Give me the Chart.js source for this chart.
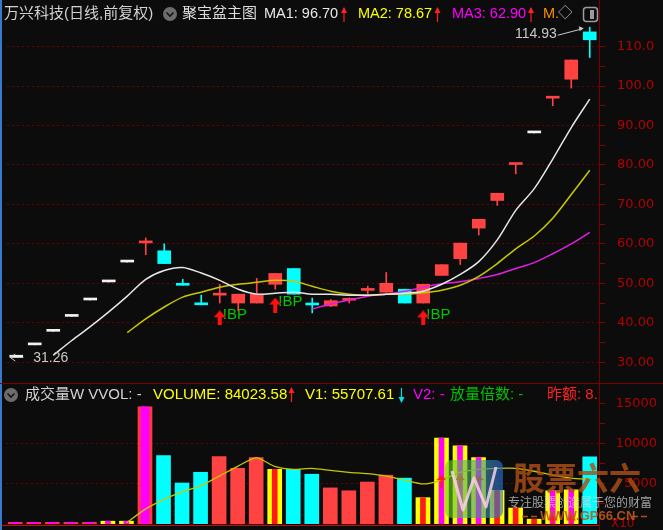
<!DOCTYPE html>
<html>
<head>
<meta charset="utf-8">
<title>万兴科技 日线</title>
<script src="https://cdn.jsdelivr.net/npm/chart.js@4.4.1/dist/chart.umd.min.js"></script>
<style>
  html, body { margin: 0; padding: 0; background: #0c0c0c; overflow: hidden; }
  #wrap { position: relative; width: 663px; height: 530px; }
  canvas { position: absolute; left: 0; }
  #priceChart { top: 0; }
  #volChart { top: 383px; }
</style>
</head>
<body>
<div id="wrap">
  <canvas id="priceChart" width="663" height="383"></canvas>
  <canvas id="volChart" width="663" height="147"></canvas>
</div>
<script>
// candles
const openP  = [31.26, 34.39, 37.83, 41.61, 45.77, 50.35, 55.39, 60.25, 58.25, 49.5, 44.55, 47.0, 45.0, 45.0, 49.75, 53.75, 44.5, 44.25, 45.7, 48.2, 47.75, 48.5, 45.0, 52.0, 56.25, 64.0, 71.0, 80.12, 88.13, 96.94, 101.75, 113.75];
const highP  = [31.26, 34.39, 37.83, 41.61, 45.77, 50.35, 55.39, 61.5, 60.0, 51.0, 47.0, 49.75, 47.25, 51.25, 52.5, 53.75, 46.25, 45.9, 46.3, 49.3, 52.75, 48.5, 49.75, 54.73, 60.2, 66.22, 72.84, 80.12, 88.13, 96.94, 106.63, 114.93];
const lowP   = [31.26, 34.39, 37.83, 41.61, 45.77, 50.35, 55.39, 57.25, 55.0, 49.5, 44.55, 45.0, 43.0, 45.0, 48.5, 47.25, 42.5, 44.1, 45.0, 47.3, 47.75, 45.0, 45.0, 52.0, 54.75, 62.25, 69.75, 77.75, 88.13, 95.0, 99.5, 107.25];
const closeP = [31.26, 34.39, 37.83, 41.61, 45.77, 50.35, 55.39, 60.25, 55.0, 49.5, 44.55, 47.0, 47.25, 47.25, 52.5, 47.25, 44.5, 45.6, 45.85, 48.3, 50.0, 45.0, 49.75, 54.73, 60.2, 66.22, 72.84, 80.12, 88.13, 96.94, 106.63, 111.75];

// moving average lines (MA1 white, MA2 yellow, MA3 magenta)
const ma1 = [null, null, 31.75, 35.5, 39.0, 42.75, 46.75, 51.0, 53.25, 54.0, 52.6, 50.75, 48.5, 47.25, 47.5, 47.75, 47.25, 47.25, 47.0, 47.0, 47.25, 47.5, 48.0, 49.75, 52.25, 55.5, 61.0, 68.5, 74.0, 81.5, 89.5, 96.70];
const ma2 = [null, null, null, null, null, null, 37.5, 41.0, 44.0, 46.5, 47.75, 49.0, 49.75, 50.25, 50.75, 50.5, 49.25, 48.0, 47.25, 47.0, 47.25, 47.25, 47.6, 48.25, 49.5, 51.75, 55.0, 58.75, 62.0, 66.5, 72.5, 78.67];
const ma3 = [null, null, null, null, null, null, null, null, null, null, null, null, null, null, null, null, 43.5, 44.75, 45.75, 46.75, 47.25, 48.0, 49.0, 49.9, 50.4, 51.25, 52.25, 53.75, 55.25, 57.5, 60.0, 62.90];

// BP buy signals (arrow level)
const bpArrow = [null, null, null, null, null, null, null, null, null, null, null, 41.25, null, null, 44.5, null, null, null, null, null, null, null, 41.25, null, null, null, null, null, null, null, null, null];

// volume (x10 units) and its average line
const volume = [200, 200, 200, 200, 200, 350, 350, 14630, 8540, 5120, 6460, 8410, 6950, 8290, 6830, 6830, 6220, 4510, 4150, 5240, 6100, 5730, 3290, 10730, 9760, 8300, 4200, 2000, 600, 4150, 4270, 8402.358];
const v1 = [null, null, null, null, null, null, 150, 1830, 3050, 4020, 4760, 5980, 7200, 8290, 7200, 6830, 6950, 6700, 6460, 6280, 5980, 5490, 5000, 5490, 6460, 6830, 6950, 6950, 6590, 6100, 5730, 5570.761];
// 放量 marks: rm = red/magenta, ym = yellow/magenta, yr = yellow/red
const volSignal = ['rm', 'rm', 'rm', 'rm', 'rm', 'ym', 'ym', 'rm', '', '', '', '', '', '', 'yr', '', '', '', '', '', '', '', 'yr', 'ym', 'ym', 'ym', 'yr', 'yr', 'yr', 'ym', 'ym', ''];
const volArrow = [null, null, null, null, null, null, null, null, null, null, null, null, null, null, null, null, null, null, null, null, null, null, null, 5300, 5300, 5300, null, null, null, 250, 250, null];

// axis ticks
const priceTicks = [30, 35, 40, 45, 50, 55, 60, 65, 70, 75, 80, 85, 90, 95, 100, 105, 110];
const volTicks = [2500, 5000, 7500, 10000, 12500, 15000];

const days = openP.map((_, i) => 'D' + (i + 1));

const UP = '#ff4242', DOWN = '#00ffff', FLAT = '#f2f2f2';
const AXIS_RED = '#b40000', GRID_RED = '#6e0000', TICK_RED = '#8a0000';
const TXT = '14.5px "Liberation Sans", "Noto Sans CJK SC", sans-serif';
const CJK = '15px "Liberation Sans", "Noto Sans CJK SC", sans-serif';
const AXIS_FONT = { family: 'DejaVu Sans', size: 13 };

function candleColor(i) {
  if (closeP[i] > openP[i]) return UP;
  if (closeP[i] < openP[i]) return DOWN;
  if (highP[i] === lowP[i]) return FLAT;
  return closeP[i] >= closeP[i - 1] ? UP : DOWN;
}
const candleColors = days.map((_, i) => candleColor(i));

function makeArrow(w, h, head, shaft, color) {
  const c = document.createElement('canvas');
  c.width = w; c.height = h;
  const g = c.getContext('2d');
  g.fillStyle = color;
  g.beginPath();
  g.moveTo(w / 2, 0); g.lineTo(w, head); g.lineTo((w + shaft) / 2, head);
  g.lineTo((w + shaft) / 2, h); g.lineTo((w - shaft) / 2, h);
  g.lineTo((w - shaft) / 2, head); g.lineTo(0, head);
  g.closePath(); g.fill();
  return c;
}
const bpIcon = makeArrow(12, 15, 7, 4, '#ff1010');
const volIcon = makeArrow(10, 13, 5, 2, '#ff1a1a');

function drawText(ctx, s, x, y, color) {
  ctx.fillStyle = color;
  ctx.fillText(s, x, y);
}

function dropIcon(ctx, cx, cy) {
  ctx.fillStyle = '#6c6c6c';
  ctx.beginPath(); ctx.arc(cx, cy, 7, 0, Math.PI * 2); ctx.fill();
  ctx.strokeStyle = '#161616'; ctx.lineWidth = 1.6;
  ctx.beginPath(); ctx.moveTo(cx - 3.5, cy - 1.5); ctx.lineTo(cx, cy + 2); ctx.lineTo(cx + 3.5, cy - 1.5); ctx.stroke();
}

function thinArrow(ctx, x, yTop, yBot, color, up) {
  ctx.strokeStyle = color; ctx.fillStyle = color; ctx.lineWidth = 1.2;
  ctx.beginPath(); ctx.moveTo(x, yTop); ctx.lineTo(x, yBot); ctx.stroke();
  ctx.beginPath();
  if (up) { ctx.moveTo(x, yTop - 1); ctx.lineTo(x - 3, yTop + 5); ctx.lineTo(x + 3, yTop + 5); }
  else { ctx.moveTo(x, yBot + 1); ctx.lineTo(x - 3, yBot - 5); ctx.lineTo(x + 3, yBot - 5); }
  ctx.closePath(); ctx.fill();
}

function frame(ctx, chart) {
  ctx.fillStyle = '#3a78c8';
  ctx.fillRect(0, 0, 2, chart.height);
  ctx.strokeStyle = '#7a0000'; ctx.lineWidth = 1;
  const xr = Math.round(chart.chartArea.right) + 0.5;
  ctx.beginPath(); ctx.moveTo(xr, 0); ctx.lineTo(xr, chart.height); ctx.stroke();
}

const priceOverlay = {
  id: 'priceOverlay',
  beforeDatasetsDraw(chart) {
    const { ctx, scales: { x, y } } = chart;
    ctx.save();
    ctx.font = '15px "Liberation Sans", sans-serif';
    ctx.textBaseline = 'middle';
    bpArrow.forEach((v, i) => {
      if (v == null) return;
      drawText(ctx, '!BP', x.getPixelForValue(i) + 3, y.getPixelForValue(v) - 3, '#00c800');
    });
    ctx.restore();
  },
  afterDraw(chart) {
    const { ctx, scales: { x, y } } = chart;
    ctx.save();
    frame(ctx, chart);

    // title row
    ctx.textBaseline = 'middle';
    ctx.font = CJK;
    drawText(ctx, '万兴科技(日线,前复权)', 4, 14, '#d2d2d2');
    dropIcon(ctx, 170, 14);
    drawText(ctx, '聚宝盆主图', 182, 14, '#dcdcdc');
    ctx.font = TXT;
    drawText(ctx, 'MA1: ' + ma1[ma1.length - 1].toFixed(2), 264, 14, '#e8e8e8');
    thinArrow(ctx, 344, 8, 22, '#ff2020', true);
    drawText(ctx, 'MA2: ' + ma2[ma2.length - 1].toFixed(2), 358, 14, '#ffff00');
    thinArrow(ctx, 437.5, 8, 22, '#ff2020', true);
    drawText(ctx, 'MA3: ' + ma3[ma3.length - 1].toFixed(2), 452, 14, '#ff00ff');
    thinArrow(ctx, 531, 8, 22, '#ff2020', true);
    drawText(ctx, 'M.', 543, 14, '#ff8c00');
    drawText(ctx, '◇', 558, 14, '#b4b4b4');
    ctx.strokeStyle = '#9c9c9c'; ctx.lineWidth = 1.5;
    ctx.beginPath(); ctx.roundRect(583.5, 7.5, 14, 14, 3); ctx.stroke();
    ctx.fillStyle = '#9c9c9c'; ctx.fillRect(590, 10, 4, 9);

    // lowest low / highest high markers
    ctx.font = '14px "Liberation Sans", sans-serif';
    const iLo = lowP.indexOf(Math.min(...lowP));
    const iHi = highP.indexOf(Math.max(...highP));
    const xl = x.getPixelForValue(iLo), yl = Math.round(y.getPixelForValue(lowP[iLo])) + 0.5;
    ctx.strokeStyle = '#c8c8c8'; ctx.fillStyle = '#c8c8c8'; ctx.lineWidth = 1;
    ctx.beginPath(); ctx.moveTo(xl - 6, yl); ctx.lineTo(xl + 7, yl); ctx.stroke();
    ctx.beginPath(); ctx.moveTo(xl - 6, yl); ctx.lineTo(xl - 1, yl - 3.5); ctx.moveTo(xl - 6, yl); ctx.lineTo(xl - 1, yl + 3.5); ctx.stroke();
    drawText(ctx, lowP[iLo].toFixed(2), xl + 17, yl + 1, '#c8c8c8');

    const xh = x.getPixelForValue(iHi), yh = y.getPixelForValue(highP[iHi]);
    ctx.textAlign = 'right';
    drawText(ctx, highP[iHi].toFixed(2), xh - 33, yh + 7, '#c8c8c8');
    ctx.strokeStyle = '#c8c8c8';
    ctx.beginPath(); ctx.moveTo(xh - 32, yh + 8); ctx.lineTo(xh - 9, yh + 2); ctx.stroke();
    ctx.beginPath(); ctx.moveTo(xh - 6, yh + 1); ctx.lineTo(xh - 11, yh - 1); ctx.lineTo(xh - 10, yh + 4); ctx.closePath(); ctx.fill();
    ctx.restore();
  }
};

const volOverlay = {
  id: 'volOverlay',
  afterDraw(chart) {
    const { ctx, chartArea, scales: { y } } = chart;
    ctx.save();
    frame(ctx, chart);
    ctx.strokeStyle = '#7a0000'; ctx.lineWidth = 1;
    ctx.beginPath(); ctx.moveTo(0, 0.5); ctx.lineTo(chart.width, 0.5); ctx.stroke();
    const yb = Math.round(y.getPixelForValue(0)) + 1.5;
    ctx.strokeStyle = '#e00000';
    ctx.beginPath(); ctx.moveTo(2, yb); ctx.lineTo(chartArea.right, yb); ctx.stroke();

    // title row
    ctx.font = CJK;
    ctx.textBaseline = 'middle';
    dropIcon(ctx, 11, 12);
    drawText(ctx, '成交量W VVOL: -', 25, 12, '#d2d2d2');
    drawText(ctx, 'VOLUME: ' + (volume[volume.length - 1] * 10).toFixed(2), 153, 12, '#ffff00');
    thinArrow(ctx, 291.5, 5, 19, '#ff2020', true);
    drawText(ctx, 'V1: ' + (v1[v1.length - 1] * 10).toFixed(2), 305, 12, '#ffff00');
    thinArrow(ctx, 401.5, 5, 19, '#00e0e0', false);
    drawText(ctx, 'V2: -', 413, 12, '#ff00ff');
    drawText(ctx, '放量倍数: -', 450, 12, '#00c000');
    ctx.save();
    ctx.beginPath(); ctx.rect(540, 0, chartArea.right - 541, 24); ctx.clip();
    drawText(ctx, '昨额: 8.23', 547, 12, '#ff2020');
    ctx.restore();

    ctx.font = '12px "DejaVu Sans"';
    drawText(ctx, 'X10', 611, 141, AXIS_RED);

    // site watermark
    const g = ctx.createLinearGradient(445, 0, 503, 0);
    g.addColorStop(0, 'rgba(110,215,30,0.62)');
    g.addColorStop(1, 'rgba(40,110,220,0.62)');
    ctx.fillStyle = g;
    ctx.beginPath(); ctx.roundRect(445, 77, 58, 58, 7); ctx.fill();
    ctx.strokeStyle = 'rgba(255,205,235,0.85)'; ctx.lineWidth = 3; ctx.lineJoin = 'round';
    ctx.beginPath(); ctx.moveTo(452, 88); ctx.lineTo(463, 127); ctx.lineTo(474, 95); ctx.lineTo(486, 124); ctx.lineTo(496, 84); ctx.stroke();

    ctx.font = 'bold 32px "Noto Sans CJK SC"';
    drawText(ctx, '股票六六', 513, 95, 'rgba(175,78,22,0.82)');
    ctx.font = '12px "Noto Sans CJK SC"';
    drawText(ctx, '专注股票创造属于您的财富', 508, 119, 'rgba(215,215,215,0.72)');
    ctx.font = 'bold 13px "Liberation Sans"';
    drawText(ctx, 'WWW.GP66.CN', 540, 133, 'rgba(190,88,28,0.9)');
    ctx.strokeStyle = 'rgba(190,88,28,0.9)'; ctx.lineWidth = 1.5;
    ctx.beginPath();
    ctx.moveTo(522, 133.5); ctx.lineTo(528, 133.5); ctx.moveTo(531, 133.5); ctx.lineTo(537, 133.5);
    ctx.moveTo(632, 133.5); ctx.lineTo(638, 133.5); ctx.moveTo(641, 133.5); ctx.lineTo(647, 133.5);
    ctx.stroke();
    ctx.restore();
  }
};

// price panel
new Chart(document.getElementById('priceChart'), {
  type: 'bar',
  data: {
    labels: days,
    datasets: [
      { label: 'wick', data: days.map((_, i) => [lowP[i], highP[i]]), backgroundColor: candleColors,
        barThickness: 1, grouped: false, order: 6 },
      { label: 'body', data: days.map((_, i) => [openP[i], closeP[i]]), backgroundColor: candleColors,
        barThickness: 13, minBarLength: 2, grouped: false, order: 5 },
      { type: 'line', label: 'MA3', data: ma3, borderColor: '#e020e0', borderWidth: 1.5, pointRadius: 0, tension: 0.3, order: 3 },
      { type: 'line', label: 'MA2', data: ma2, borderColor: '#c8c800', borderWidth: 1.5, pointRadius: 0, tension: 0.3, order: 2 },
      { type: 'line', label: 'MA1', data: ma1, borderColor: '#e6e6e6', borderWidth: 1.5, pointRadius: 0, tension: 0.3, order: 1 },
      { type: 'line', label: 'BP', data: bpArrow, showLine: false, pointStyle: bpIcon, pointRadius: 6, order: 0 }
    ]
  },
  options: {
    responsive: false, animation: false, devicePixelRatio: 1,
    layout: { padding: { top: 24, bottom: 2, left: 0, right: 0 } },
    plugins: { legend: { display: false }, tooltip: { enabled: false } },
    scales: {
      x: { display: false, offset: true },
      y: {
        position: 'right', min: 26.5, max: 115.75,
        afterBuildTicks: s => { s.ticks = priceTicks.map(v => ({ value: v })); },
        afterFit: s => { s.width = 64; s.paddingTop = 0; s.paddingBottom = 0; },
        ticks: { color: AXIS_RED, font: AXIS_FONT, padding: 12,
          callback: v => v % 10 !== 0 ? '' : (v >= 100 ? v.toFixed(1) : v.toFixed(2)) },
        grid: { color: c => (c.tick && c.tick.value % 10 === 0) ? GRID_RED : 'rgba(0,0,0,0)',
          tickColor: TICK_RED, tickLength: 6 },
        border: { display: false, dash: [2, 3] }
      }
    }
  },
  plugins: [priceOverlay]
});

// volume panel
const volUp = days.map((_, i) => candleColor(i) !== DOWN);
const outerColors = volSignal.map((s, i) => s === 'rm' ? '#ff3a3a' : (s ? '#ffff00' : (volUp[i] ? '#ff4242' : '#00ffff')));
new Chart(document.getElementById('volChart'), {
  type: 'bar',
  data: {
    labels: days,
    datasets: [
      { label: 'VOL', data: volume, backgroundColor: outerColors, barThickness: 14, grouped: false, order: 5 },
      { label: 'wide', data: volume.map((v, i) => volSignal[i] === 'rm' ? v : null), backgroundColor: '#ff00ff',
        barThickness: 8, grouped: false, order: 4 },
      { label: 'stripe', data: volume.map((v, i) => (volSignal[i] === 'ym' || volSignal[i] === 'yr') ? v : null),
        backgroundColor: volSignal.map(s => s === 'yr' ? '#ff1a1a' : '#ff00ff'), barThickness: 5, grouped: false, order: 3 },
      { type: 'line', label: 'V1', data: v1, borderColor: '#c8c800', borderWidth: 1.3, pointRadius: 0, tension: 0.2, order: 2 },
      { type: 'line', label: 'up', data: volArrow, showLine: false, pointStyle: volIcon, pointRadius: 5, order: 1 }
    ]
  },
  options: {
    responsive: false, animation: false, devicePixelRatio: 1,
    layout: { padding: { top: 17, bottom: 3, left: 0, right: 6 } },
    plugins: { legend: { display: false }, tooltip: { enabled: false } },
    scales: {
      x: { display: false, offset: true },
      y: {
        position: 'right', min: 0, max: 15488,
        afterBuildTicks: s => { s.ticks = volTicks.map(v => ({ value: v })); },
        afterFit: s => { s.width = 58; s.paddingTop = 0; s.paddingBottom = 0; },
        ticks: { color: AXIS_RED, font: AXIS_FONT, crossAlign: 'far',
          callback: v => v % 5000 === 0 ? String(v) : '' },
        grid: { color: c => (c.tick && (c.tick.value === 5000 || c.tick.value === 10000)) ? GRID_RED : 'rgba(0,0,0,0)',
          tickColor: TICK_RED, tickLength: 6 },
        border: { display: false, dash: [2, 3] }
      }
    }
  },
  plugins: [volOverlay]
});
</script>
</body>
</html>
